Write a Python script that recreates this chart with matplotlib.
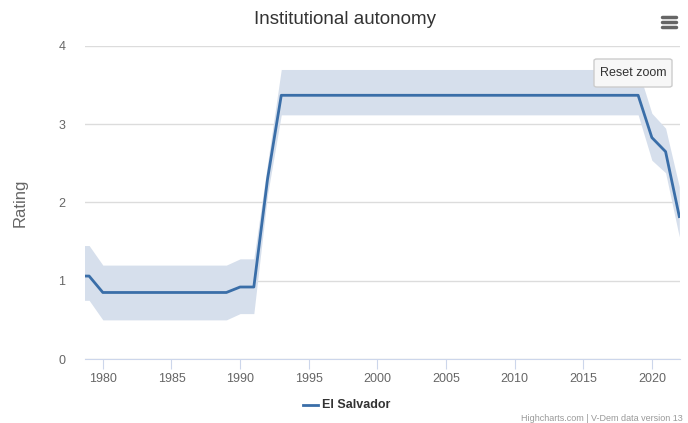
import matplotlib.pyplot as plt
from matplotlib.patches import FancyBboxPatch

plt.rcParams['font.family'] = ['Liberation Sans', 'DejaVu Sans']

# data
years = [1978, 1979, 1980, 1981, 1982, 1983, 1984, 1985, 1986, 1987, 1988, 1989,
         1990, 1991, 1992, 1993, 2019, 2020, 2021, 2022]
rating = [1.06, 1.06, 0.85, 0.85, 0.85, 0.85, 0.85, 0.85, 0.85, 0.85, 0.85, 0.85,
          0.92, 0.92, 2.30, 3.37, 3.37, 2.83, 2.65, 1.82]
upper = [1.45, 1.45, 1.20, 1.20, 1.20, 1.20, 1.20, 1.20, 1.20, 1.20, 1.20, 1.20,
         1.28, 1.28, 2.50, 3.70, 3.70, 3.14, 2.95, 2.20]
lower = [0.75, 0.75, 0.50, 0.50, 0.50, 0.50, 0.50, 0.50, 0.50, 0.50, 0.50, 0.50,
         0.58, 0.58, 2.10, 3.12, 3.12, 2.54, 2.38, 1.56]
x_ticks = [1980, 1985, 1990, 1995, 2000, 2005, 2010, 2015, 2020]
y_ticks = [0, 1, 2, 3, 4]

W, H = 688, 423
fig = plt.figure(figsize=(W / 100, H / 100), dpi=100)
ax = fig.add_axes([85 / W, 1 - 359 / H, (680 - 85) / W, (359 - 46) / H])

line_color = '#3a6ea8'
band_color = '#d6dfec'
ax.fill_between(years, lower, upper, color=band_color, lw=0, zorder=1)
ax.plot(years, rating, color=line_color, lw=2, zorder=3)

ax.set_xlim(1978.7, 2022.05)
ax.set_ylim(0, 4)
ax.set_xticks(x_ticks)
ax.set_yticks(y_ticks)
ax.grid(axis='y', color='#dcdcdc', lw=1, zorder=0)
ax.set_axisbelow(True)
for s in ['top', 'right', 'left']:
    ax.spines[s].set_visible(False)
ax.spines['bottom'].set_color('#ccd6eb')
ax.tick_params(axis='x', colors='#ccd6eb', labelcolor='#666666', length=7,
               labelsize=9, pad=3)
ax.tick_params(axis='y', length=0, labelcolor='#666666', labelsize=9, pad=14)
ax.set_ylabel('Rating', fontsize=12, color='#666666', labelpad=22)

fig.text(345 / W, 1 - 19 / H, 'Institutional autonomy', ha='center', va='center',
         fontsize=13.5, color='#333333')

# legend
fig.add_artist(plt.Line2D([303 / W, 318 / W], [1 - 405 / H] * 2, color=line_color, lw=2))
fig.text(322 / W, 1 - 405 / H, 'El Salvador', ha='left', va='center', fontsize=9,
         fontweight='bold', color='#333333')

# credits
fig.text(683 / W, 1 - 418 / H, 'Highcharts.com | V-Dem data version 13', ha='right',
         va='center', fontsize=6.5, color='#999999')

# reset zoom button
btn = FancyBboxPatch((594 / W, 1 - 87 / H), 78 / W, 28 / H,
                     boxstyle='round,pad=0,rounding_size=0.004',
                     transform=fig.transFigure, facecolor='#f7f7f7',
                     edgecolor='#cccccc', lw=1)
fig.add_artist(btn)
fig.text(633 / W, 1 - 73 / H, 'Reset zoom', ha='center', va='center', fontsize=9,
         color='#333333')

# menu icon
for yy in [17, 22, 27]:
    fig.add_artist(plt.Line2D([662 / W, 676 / W], [1 - yy / H] * 2, color='#666666',
                              lw=2.5, solid_capstyle='round'))

fig.savefig('out.png', dpi=100)
